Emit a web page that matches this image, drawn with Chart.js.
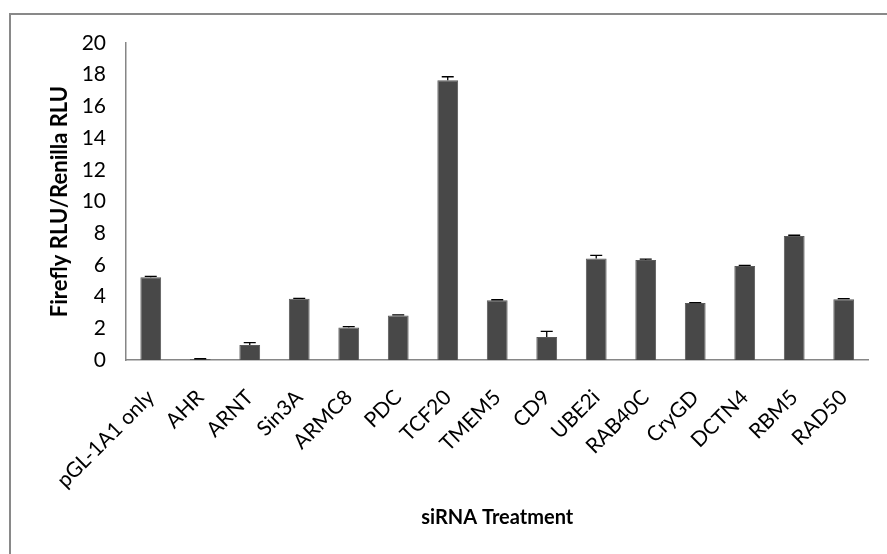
<!DOCTYPE html>
<html>
<head>
<meta charset="utf-8">
<script src="https://cdn.jsdelivr.net/npm/chart.js@4"></script>
<style>
  html, body { margin: 0; padding: 0; background: #fff; overflow: hidden; }
  #wrap { width: 887px; height: 554px; position: relative; }
</style>
</head>
<body>
<div id="wrap"><canvas id="chart"></canvas></div>
<script>
const treatments = [
  'pGL-1A1 only', 'AHR', 'ARNT', 'Sin3A', 'ARMC8', 'PDC', 'TCF20', 'TMEM5',
  'CD9', 'UBE2i', 'RAB40C', 'CryGD', 'DCTN4', 'RBM5', 'RAD50',
]
const ratio = [5.22, 0.06, 0.95, 3.86, 2.05, 2.81, 17.65, 3.77, 1.45, 6.4, 6.31, 3.6, 5.93, 7.82, 3.84]
const errors = [0.05, 0.02, 0.15, 0.03, 0.05, 0.04, 0.22, 0.03, 0.35, 0.2, 0.05, 0.02, 0.04, 0.05, 0.03]
const yTicks = [0, 2, 4, 6, 8, 10, 12, 14, 16, 18, 20]

const axisGrey = '#868686'

// outer chart frame (only top and left edges are visible in the picture)
const frame = {
  id: 'frame',
  beforeDraw(chart) {
    const ctx = chart.ctx
    ctx.save()
    ctx.strokeStyle = '#898989'
    ctx.lineWidth = 2
    ctx.beginPath()
    ctx.moveTo(10, chart.height)
    ctx.lineTo(10, 14)
    ctx.lineTo(chart.width, 14)
    ctx.stroke()
    ctx.restore()
  },
}

// plus-direction error bars, like the Excel original
const errorBars = {
  id: 'errorBars',
  afterDatasetsDraw(chart) {
    const ctx = chart.ctx
    const y = chart.scales.y
    const meta = chart.getDatasetMeta(0)
    ctx.save()
    ctx.strokeStyle = '#000'
    ctx.lineWidth = 1.3
    meta.data.forEach((bar, i) => {
      const top = y.getPixelForValue(ratio[i] + errors[i])
      const base = y.getPixelForValue(ratio[i])
      ctx.beginPath()
      ctx.moveTo(bar.x, base)
      ctx.lineTo(bar.x, top)
      ctx.moveTo(bar.x - 6, top)
      ctx.lineTo(bar.x + 6, top)
      ctx.stroke()
    })
    ctx.restore()
  },
}

new Chart(document.getElementById('chart'), {
  type: 'bar',
  data: {
    labels: treatments,
    datasets: [
      {
        label: 'Firefly RLU/Renilla RLU',
        data: ratio,
        backgroundColor: '#484848',
        borderColor: '#5a5a5a',
        borderWidth: 1,
        barPercentage: 0.42,
        categoryPercentage: 1,
      },
    ],
  },
  plugins: [frame, errorBars],
  options: {
    responsive: true,
    maintainAspectRatio: false,
    animation: false,
    layout: { padding: { left: 47, top: 43, right: 14, bottom: 24 } },
    plugins: {
      legend: false,
      tooltip: { enabled: false },
    },
    scales: {
      x: {
        grid: { display: false, drawTicks: false },
        border: { color: axisGrey, width: 1.5 },
        ticks: {
          color: '#000',
          font: { family: 'Lato', size: 21 },
          maxRotation: 45,
          minRotation: 45,
          padding: 25,
        },
        title: {
          display: true,
          text: 'siRNA Treatment',
          color: '#000',
          font: { family: 'Lato', size: 20, weight: 'bold' },
          padding: { top: 30, bottom: 0 },
        },
        afterFit(scale) {
          scale.height = 170
        },
      },
      y: {
        min: 0,
        max: 20,
        afterBuildTicks(scale) {
          scale.ticks = yTicks.map((v) => ({ value: v }))
        },
        grid: { display: false, drawOnChartArea: false, drawTicks: true, tickLength: 8, color: axisGrey },
        border: { color: axisGrey, width: 1.5 },
        ticks: {
          color: '#000',
          font: { family: 'Lato', size: 21 },
          padding: 12,
        },
        title: {
          display: true,
          text: 'Firefly RLU/Renilla RLU',
          color: '#000',
          font: { family: 'Lato', size: 22, weight: 'bold' },
          padding: { top: 0, bottom: 8 },
        },
        afterFit(scale) {
          scale.width = 79
        },
      },
    },
  },
})
</script>
</body>
</html>
